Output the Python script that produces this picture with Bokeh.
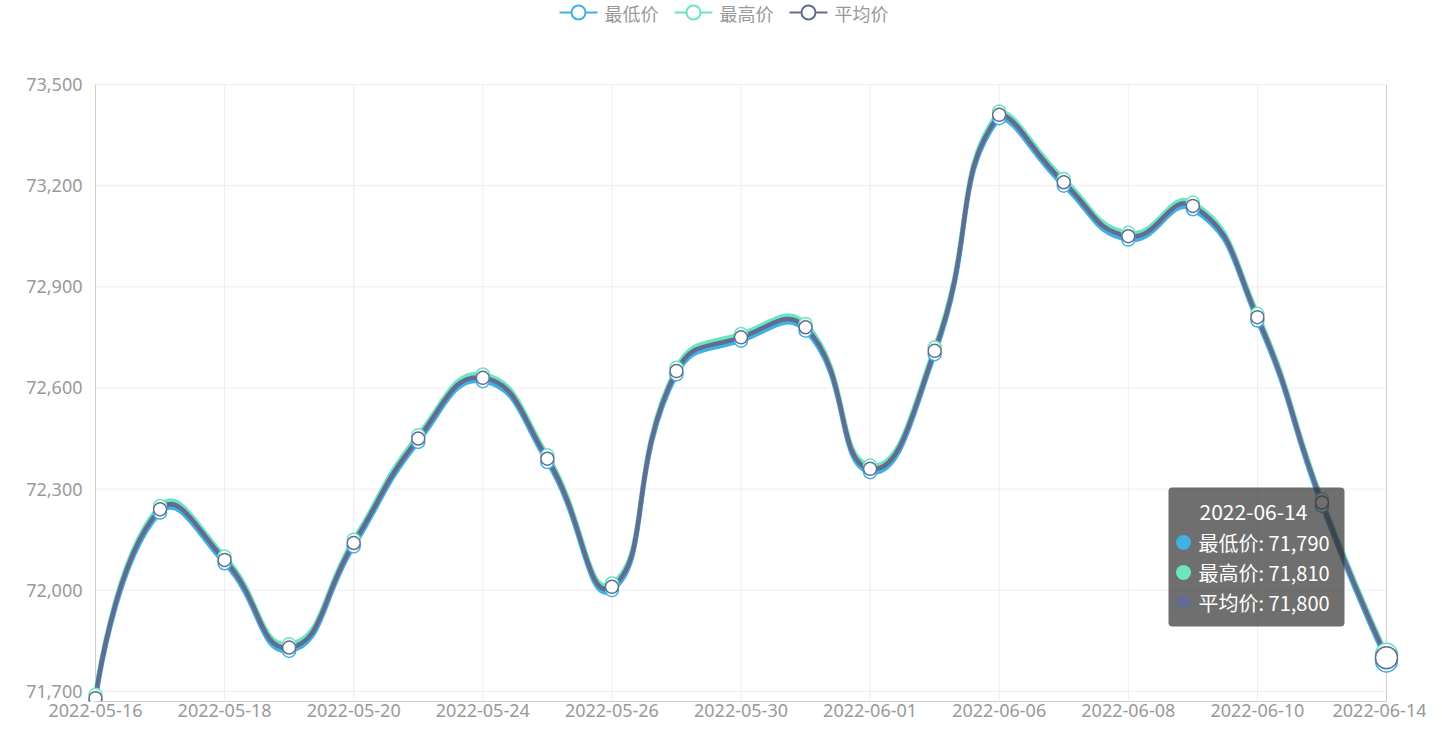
import numpy as np
from bokeh.plotting import figure
from bokeh.models import Range1d, FixedTicker, NumeralTickFormatter, BoxAnnotation, Label
from bokeh.layouts import column
from bokeh.embed import file_html
from bokeh.resources import INLINE
from bokeh.core.properties import value

# ---------------- data ----------------
dates = ["2022-05-16", "2022-05-17", "2022-05-18", "2022-05-19", "2022-05-20",
         "2022-05-23", "2022-05-24", "2022-05-25", "2022-05-26", "2022-05-27",
         "2022-05-30", "2022-05-31", "2022-06-01", "2022-06-02", "2022-06-06",
         "2022-06-07", "2022-06-08", "2022-06-09", "2022-06-10", "2022-06-13",
         "2022-06-14"]
low = [71670, 72230, 72080, 71820, 72130, 72440, 72620, 72380, 72000, 72640,
       72740, 72770, 72350, 72700, 73400, 73200, 73040, 73130, 72800, 72250, 71790]
high = [71690, 72250, 72100, 71840, 72150, 72460, 72640, 72400, 72020, 72660,
        72760, 72790, 72370, 72720, 73420, 73220, 73060, 73150, 72820, 72270, 71810]
avg = [71680, 72240, 72090, 71830, 72140, 72450, 72630, 72390, 72010, 72650,
       72750, 72780, 72360, 72710, 73410, 73210, 73050, 73140, 72810, 72260, 71800]
series_names = ["最低价", "最高价", "平均价"]
series_colors = ["#3fb1e3", "#6be6c1", "#626c91"]
series_values = [low, high, avg]
y_ticks = [71700, 72000, 72300, 72600, 72900, 73200, 73500]

# ---------------- layout (picture pixels) ----------------
W = 1426
LEG_H = 30
MAIN_H = 695
MAIN_TOP = LEG_H
X0_PX, X1_PX = 95, 1386
YTOP_PX, YBOT_PX = 84, 701
PAD_X, PAD_TOP = 12, 2
FRAME_L, FRAME_R = X0_PX - PAD_X, X1_PX + PAD_X
AXIS_FONT = "Noto Sans"
CJK_FONT = "Noto Sans CJK SC"
LABEL_COLOR = "#999999"

n = len(dates)
xs = list(range(n))
x_ticks = xs[::2]
Y_MIN = min(low)
Y_MAX = y_ticks[-1]
SX = (X1_PX - X0_PX) / (n - 1)
SY = (YBOT_PX - YTOP_PX) / (Y_MAX - Y_MIN)


def xd(px):
    return (px - X0_PX) / SX


def yd(py):
    return Y_MAX - (py - YTOP_PX) / SY


p = figure(width=W, height=MAIN_H,
           x_range=Range1d(xd(FRAME_L), xd(FRAME_R)),
           y_range=Range1d(Y_MIN, yd(YTOP_PX - PAD_TOP)),
           output_backend="svg", toolbar_location=None,
           min_border_left=FRAME_L,
           min_border_right=W - FRAME_R,
           min_border_top=YTOP_PX - PAD_TOP - MAIN_TOP,
           min_border_bottom=MAIN_TOP + MAIN_H - YBOT_PX)
p.outline_line_color = None
p.xgrid.visible = False
p.ygrid.visible = False
p.background_fill_color = "white"
p.border_fill_color = "white"

xa = p.xaxis[0]
xa.ticker = FixedTicker(ticks=x_ticks)
xa.major_label_overrides = {i: dates[i] for i in x_ticks}
xa.bounds = (0, n - 1)
xa.axis_line_color = "#cccccc"
xa.major_tick_line_color = None
xa.minor_tick_line_color = None
xa.major_tick_out = 0
xa.major_label_standoff = 2
xa.major_label_text_font = AXIS_FONT
xa.major_label_text_font_size = "18px"
xa.major_label_text_color = LABEL_COLOR

ya = p.yaxis[0]
ya.ticker = FixedTicker(ticks=y_ticks)
ya.formatter = NumeralTickFormatter(format="0,0")
ya.axis_line_color = None
ya.major_tick_line_color = None
ya.minor_tick_line_color = None
ya.major_tick_out = 0
ya.major_label_standoff = 1
ya.major_label_text_font = AXIS_FONT
ya.major_label_text_font_size = "18px"
ya.major_label_text_color = LABEL_COLOR

# split lines
p.segment(x0=[0] * len(y_ticks), x1=[n - 1] * len(y_ticks), y0=y_ticks, y1=y_ticks,
          line_color="#eeeeee", line_width=1)
inner = x_ticks[1:-1]
p.segment(x0=inner, x1=inner, y0=[Y_MIN] * len(inner), y1=[Y_MAX] * len(inner),
          line_color="#eeeeee", line_width=1)
# left axis line and right border
p.segment(x0=[0, n - 1], x1=[0, n - 1], y0=[Y_MIN, Y_MIN], y1=[Y_MAX, Y_MAX],
          line_color="#cccccc", line_width=1)

SMOOTH = 0.5


def bezier_segments(ys):
    P = np.column_stack([np.arange(n) * SX, np.asarray(ys, float) * SY])
    mn, mx = P.min(axis=0), P.max(axis=0)
    cp0 = P[0].copy()
    v = np.zeros(2)
    segs = []
    for i in range(1, n):
        cur, prev = P[i], P[i - 1]
        ratio = 0.5
        if i + 1 < n:
            nxt = P[i + 1]
            v = nxt - prev
            d0 = np.hypot(*(cur - prev))
            d1 = np.hypot(*(nxt - cur))
            ratio = d1 / (d0 + d1)
            cp1 = cur - v * SMOOTH * (1 - ratio)
        else:
            cp1 = cur.copy()
        cp0 = np.clip(cp0, mn, mx)
        cp1 = np.clip(cp1, mn, mx)
        segs.append((prev.copy(), cp0.copy(), cp1.copy(), cur.copy()))
        cp0 = cur + v * SMOOTH * ratio
    a = np.array(segs)
    return dict(x0=a[:, 0, 0] / SX, y0=a[:, 0, 1] / SY,
                cx0=a[:, 1, 0] / SX, cy0=a[:, 1, 1] / SY,
                cx1=a[:, 2, 0] / SX, cy1=a[:, 2, 1] / SY,
                x1=a[:, 3, 0] / SX, y1=a[:, 3, 1] / SY)


for vals, col in zip(series_values, series_colors):
    p.bezier(**bezier_segments(vals), line_color=col, line_width=4.5, line_cap="round")

for vals, col in zip(series_values, series_colors):
    p.scatter(x=xs[:-1], y=vals[:-1], marker="circle", size=13, fill_color="white",
              line_color=col, line_width=1.5)
    p.scatter(x=[xs[-1]], y=[vals[-1]], marker="circle", size=22, fill_color="white",
              line_color=col, line_width=1.5)

# tooltip for the last category
tip = BoxAnnotation(left=xd(1168), right=xd(1344), top=yd(487), bottom=yd(626),
                    fill_color="#323232", fill_alpha=0.7, line_color=None,
                    border_radius=4)
p.add_layout(tip)
p.add_layout(Label(x=xd(1199), y=yd(511), text=dates[-1], text_color="white",
                   text_font=CJK_FONT, text_font_size="21px", text_baseline="middle",
                   level="overlay"))
row_y = [542, 572, 602]
p.scatter(x=[xd(1183)] * 3, y=[yd(r) for r in row_y], marker="circle", size=15,
          fill_color=series_colors, line_color=None, level="overlay")
for k in range(3):
    p.add_layout(Label(x=xd(1198), y=yd(row_y[k]),
                       text=f"{series_names[k]}: {series_values[k][-1]:,}",
                       text_color="white", text_font=CJK_FONT, text_font_size="20px",
                       text_baseline="middle", level="overlay"))

# ---------------- legend strip (frame aligned with the chart's frame) ----------------
leg = figure(width=W, height=LEG_H,
             x_range=Range1d(FRAME_L, FRAME_R), y_range=Range1d(LEG_H, 0),
             output_backend="svg", toolbar_location=None,
             min_border_left=FRAME_L, min_border_right=W - FRAME_R,
             min_border_top=0, min_border_bottom=0,
             x_axis_type=None, y_axis_type=None)
leg.outline_line_color = None
leg.grid.visible = False
LEG_CY = 12
item_x = [559, 674, 789]
ICON_W = 38
for k in range(3):
    x0 = item_x[k]
    leg.segment(x0=[x0], x1=[x0 + ICON_W], y0=[LEG_CY], y1=[LEG_CY],
                line_color=series_colors[k], line_width=2)
    leg.scatter(x=[x0 + ICON_W / 2], y=[LEG_CY], marker="circle", size=14,
                fill_color="white", line_color=series_colors[k], line_width=2)
    leg.text(x=[x0 + ICON_W + 7], y=[LEG_CY], text=[series_names[k]],
             text_font=value(CJK_FONT), text_font_size="18px",
             text_color=LABEL_COLOR, text_baseline="middle", text_align="left")

layout = column(leg, p)
open("out.html", "w").write(file_html(layout, INLINE))
